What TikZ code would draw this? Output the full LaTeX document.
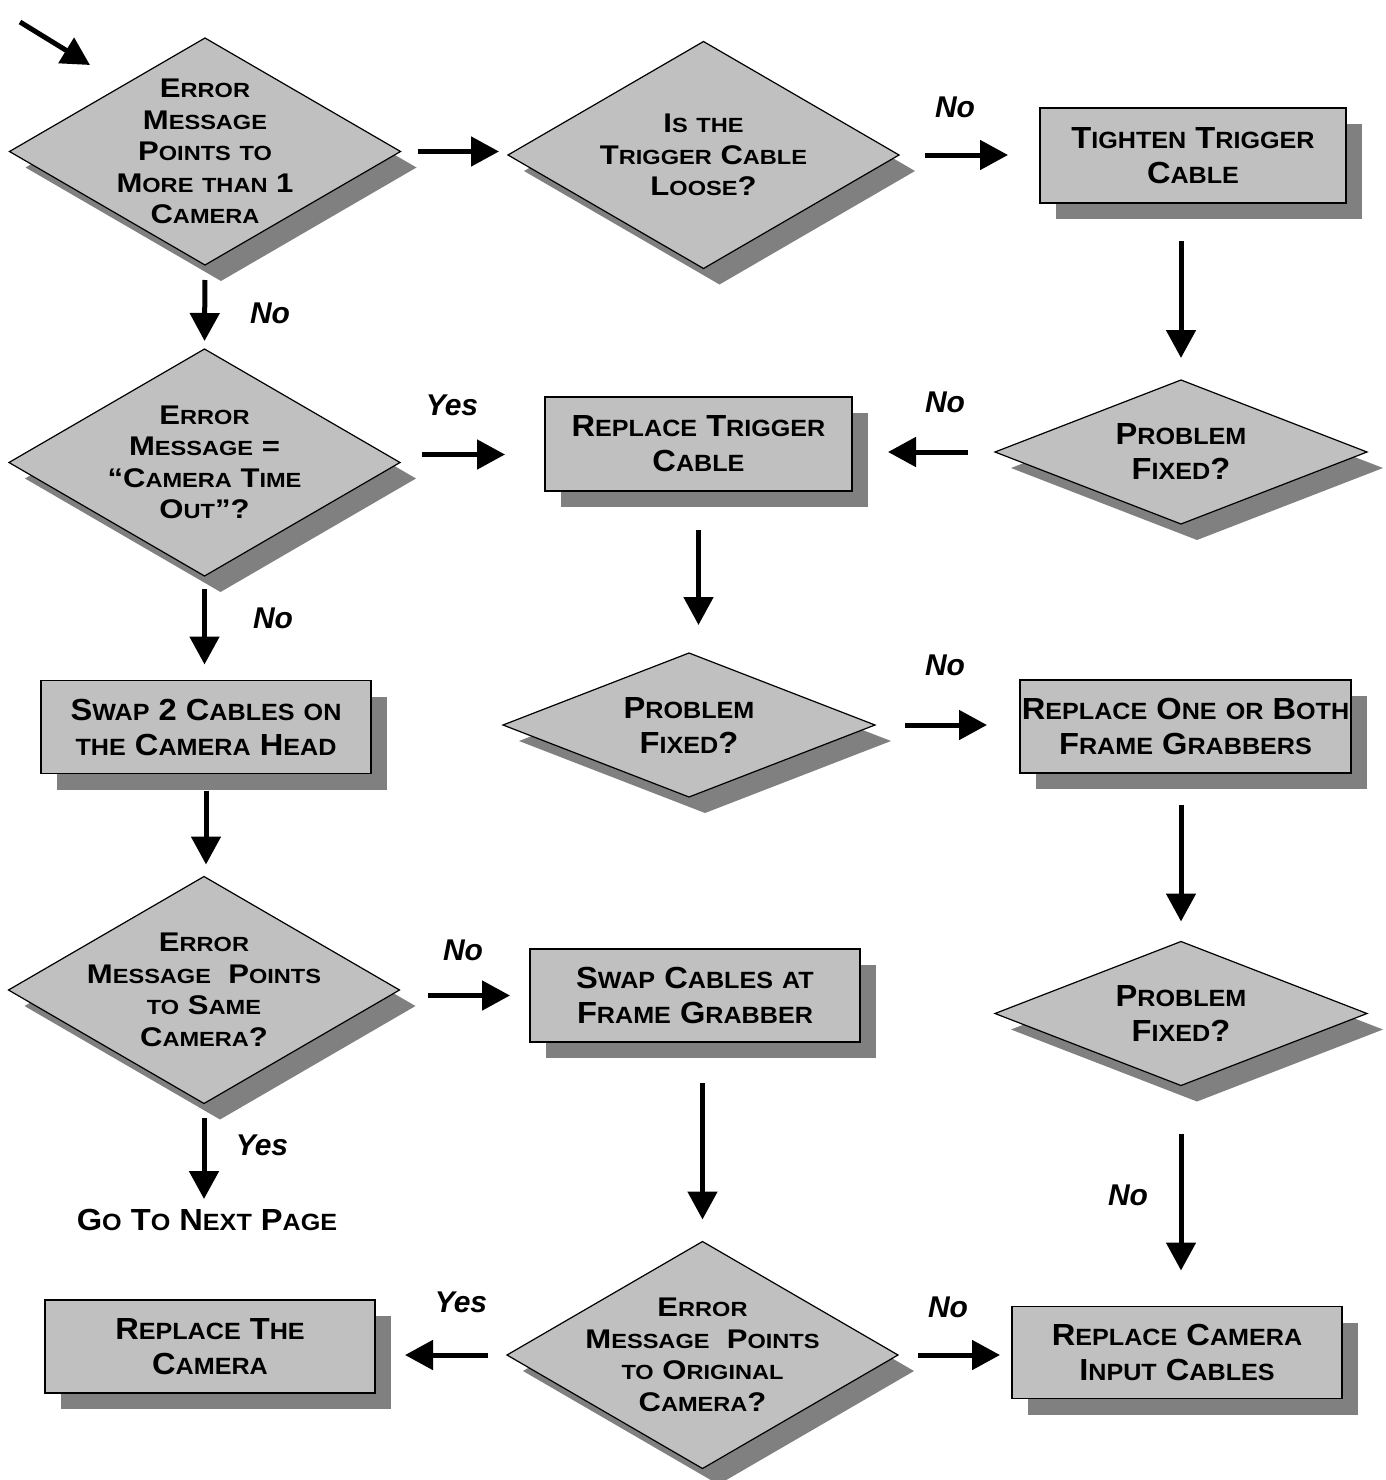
\documentclass[tikz,border=0pt]{standalone}
\usepackage{fontspec}
\setmainfont{Liberation Sans}
\newfontfamily\diafont{Liberation Sans}[FakeStretch=1.15]
\newfontfamily\boxfont{Liberation Sans}[FakeStretch=1.07]
\usetikzlibrary{shapes.geometric,shadows,arrows.meta,calc}
\definecolor{boxgray}{HTML}{C0C0C0}
\definecolor{shadegray}{HTML}{808080}
% small caps by hand: first letter full size, the rest smaller capitals
\newcommand\smsz{18}
\newcommand\Sc[1]{\ScX#1\relax}
\def\ScX#1#2\relax{#1{\fontsize{\smsz}{\smsz}\selectfont\MakeUppercase{#2}}}
\newcommand\Lc[1]{{\fontsize{\smsz}{\smsz}\selectfont\MakeUppercase{#1}}}
\tikzset{
  boxshadow/.style={drop shadow={shadow xshift=16pt,shadow yshift=-16pt,
      fill=shadegray,opacity=1}},
  dia/.style={diamond,draw,line width=1.2pt,fill=boxgray,boxshadow,
    inner sep=0pt,outer sep=0pt,minimum width=391pt,minimum height=227pt},
  pf/.style={dia,minimum width=372pt,minimum height=144pt},
  diatext/.style={align=center,inner sep=0pt,
    font=\diafont\bfseries\fontsize{27}{31.5}\selectfont\def\smsz{20.5}},
  boxtext/.style={align=center,inner sep=0pt,
    font=\boxfont\bfseries\fontsize{30.5}{35}\selectfont\def\smsz{23.5}},
  stepbox/.style={rectangle,draw,line width=1.2pt,fill=boxgray,boxshadow,
    boxtext,outer sep=0pt,minimum width=330pt,minimum height=93pt},
  lbl/.style={font=\bfseries\itshape\fontsize{30}{30}\selectfont},
  arr/.style={line width=5pt,-{Triangle[length=28pt,width=29pt]}},
}
\begin{document}
\begin{tikzpicture}[x=1pt,y=-1pt]
\useasboundingbox (0,0) rectangle (1385,1480);

% left column
\node[dia] (d1) at (205,151.5) {};
\node[diatext] (d1t) at (d1) {\Sc{Error}\\ \Sc{Message}\\ \Sc{Points} \Lc{to}\\
  \Sc{More} \Lc{than} 1\\ \Sc{Camera}};
\node[dia] (d3) at (204.5,462.5) {};
\node[diatext] (d3t) at (d3) {\Sc{Error}\\ \Sc{Message} =\\ “\Sc{Camera} \Sc{Time}\\
  \Sc{Out}”?};
\node[stepbox] (swap2) at (206,727) {\Sc{Swap} 2 \Sc{Cables} \Lc{on}\\
  \Lc{the} \Sc{Camera} \Sc{Head}};
\node[dia] (d4) at (204,990) {};
\node[diatext] (d4t) at (d4) {\Sc{Error}\\ \Sc{Message}~~\Sc{Points}\\
  \Lc{to} \Sc{Same}\\ \Sc{Camera}?};
\node[boxtext] (next) at (207,1220) {\Sc{Go} \Sc{To} \Sc{Next} \Sc{Page}};
\node[stepbox] (rtcam) at (210,1346.5) {\Sc{Replace} \Sc{The}\\ \Sc{Camera}};

% middle column
\node[dia] (d2) at (703.5,155) {};
\node[diatext] (d2t) at (d2) {\Sc{Is} \Lc{the}\\ \Sc{Trigger} \Sc{Cable}\\
  \Sc{Loose}?};
\node[stepbox,minimum width=307pt,minimum height=94pt] (rtc) at (698.5,444)
  {\Sc{Replace} \Sc{Trigger}\\ \Sc{Cable}};
\node[pf] (pf2) at (689,725) {};
\node[boxtext] (pf2t) at (pf2) {\Sc{Problem}\\ \Sc{Fixed}?};
\node[stepbox] (sfg) at (695,995.5) {\Sc{Swap} \Sc{Cables} \Lc{at}\\
  \Sc{Frame} \Sc{Grabber}};
\node[dia] (d5) at (702.5,1355) {};
\node[diatext] (d5t) at (d5) {\Sc{Error}\\ \Sc{Message}~~\Sc{Points}\\
  \Lc{to} \Sc{Original}\\ \Sc{Camera}?};

% right column
\node[stepbox,minimum width=306pt,minimum height=95pt] (tight) at (1193,155.5)
  {\Sc{Tighten} \Sc{Trigger}\\ \Sc{Cable}};
\node[pf] (pf1) at (1181,452) {};
\node[boxtext] (pf1t) at (pf1) {\Sc{Problem}\\ \Sc{Fixed}?};
\node[stepbox,minimum width=331pt] (rob) at (1185.5,726.5)
  {\Sc{Replace} \Sc{One} \Lc{or} \Sc{Both}\\ \Sc{Frame} \Sc{Grabbers}};
\node[pf] (pf3) at (1181,1013.5) {};
\node[boxtext] (pf3t) at (pf3) {\Sc{Problem}\\ \Sc{Fixed}?};
\node[stepbox,minimum height=92pt] (rcic) at (1177,1352.5)
  {\Sc{Replace} \Sc{Camera}\\ \Sc{Input} \Sc{Cables}};

% connectors
\coordinate (start) at (20,22);
\coordinate (entry) at (90,65);
\draw[arr] (start) -- (entry);
\draw[arr,shorten <=17pt,shorten >=9pt] (d1.east) -- (d1.east -| d2.west);
\draw[arr,shorten <=26pt,shorten >=32pt] (d2.east) -- (d2.east -| tight.west);
\draw[arr,shorten <=38pt,shorten >=22pt] (tight.south -| pf1.north) -- (pf1.north);
\draw[arr,shorten <=27pt,shorten >=36pt] (pf1.west) -- (pf1.west -| rtc.east);
\draw[arr,shorten <=15pt,shorten >=8pt] (d1.south) -- (d3.north);
\draw[arr,shorten <=22pt,shorten >=40pt] ([yshift=8pt]d3.east) -- ([yshift=8pt]d3.east -| rtc.west);
\draw[arr,shorten <=13pt,shorten >=16pt] (d3.south) -- (d3.south |- swap2.north);
\draw[arr,shorten <=39pt,shorten >=28pt] (rtc.south) -- (rtc.south |- pf2.north);
\draw[arr,shorten <=30pt,shorten >=33pt] (pf2.east) -- (pf2.east -| rob.west);
\draw[arr,shorten <=32pt,shorten >=20pt] (rob.south -| pf3.north) -- (pf3.north);
\draw[arr,shorten <=48pt,shorten >=36pt] (pf3.south) -- (pf3.south |- rcic.north);
\draw[arr,shorten <=17pt,shorten >=12pt] (swap2.south) -- (swap2.south |- d4.north);
\draw[arr,shorten <=28pt,shorten >=20pt] (sfg.west -| d4.east) -- (sfg.west);
\draw[arr,shorten <=14pt,shorten >=10pt] (d4.south) -- (d4.south |- next.north);
\draw[arr,shorten <=41pt,shorten >=22pt] (sfg.south -| d5.north) -- (d5.north);
\draw[arr,shorten <=20pt,shorten >=12pt] (d5.east) -- (d5.east -| rcic.west);
\draw[arr,shorten <=19pt,shorten >=30pt] (d5.west) -- (d5.west -| rtcam.east);

% answers
\node[lbl] (no1) at (955,107) {No};
\node[lbl] (no2) at (270,313) {No};
\node[lbl] (yes1) at (452,405) {Yes};
\node[lbl] (no3) at (945,402) {No};
\node[lbl] (no4) at (273,618) {No};
\node[lbl] (no5) at (945,665) {No};
\node[lbl] (no6) at (463,950) {No};
\node[lbl] (yes2) at (262,1145) {Yes};
\node[lbl] (no7) at (1128,1195) {No};
\node[lbl] (yes3) at (461,1302) {Yes};
\node[lbl] (no8) at (948,1307) {No};
\end{tikzpicture}
\end{document}
